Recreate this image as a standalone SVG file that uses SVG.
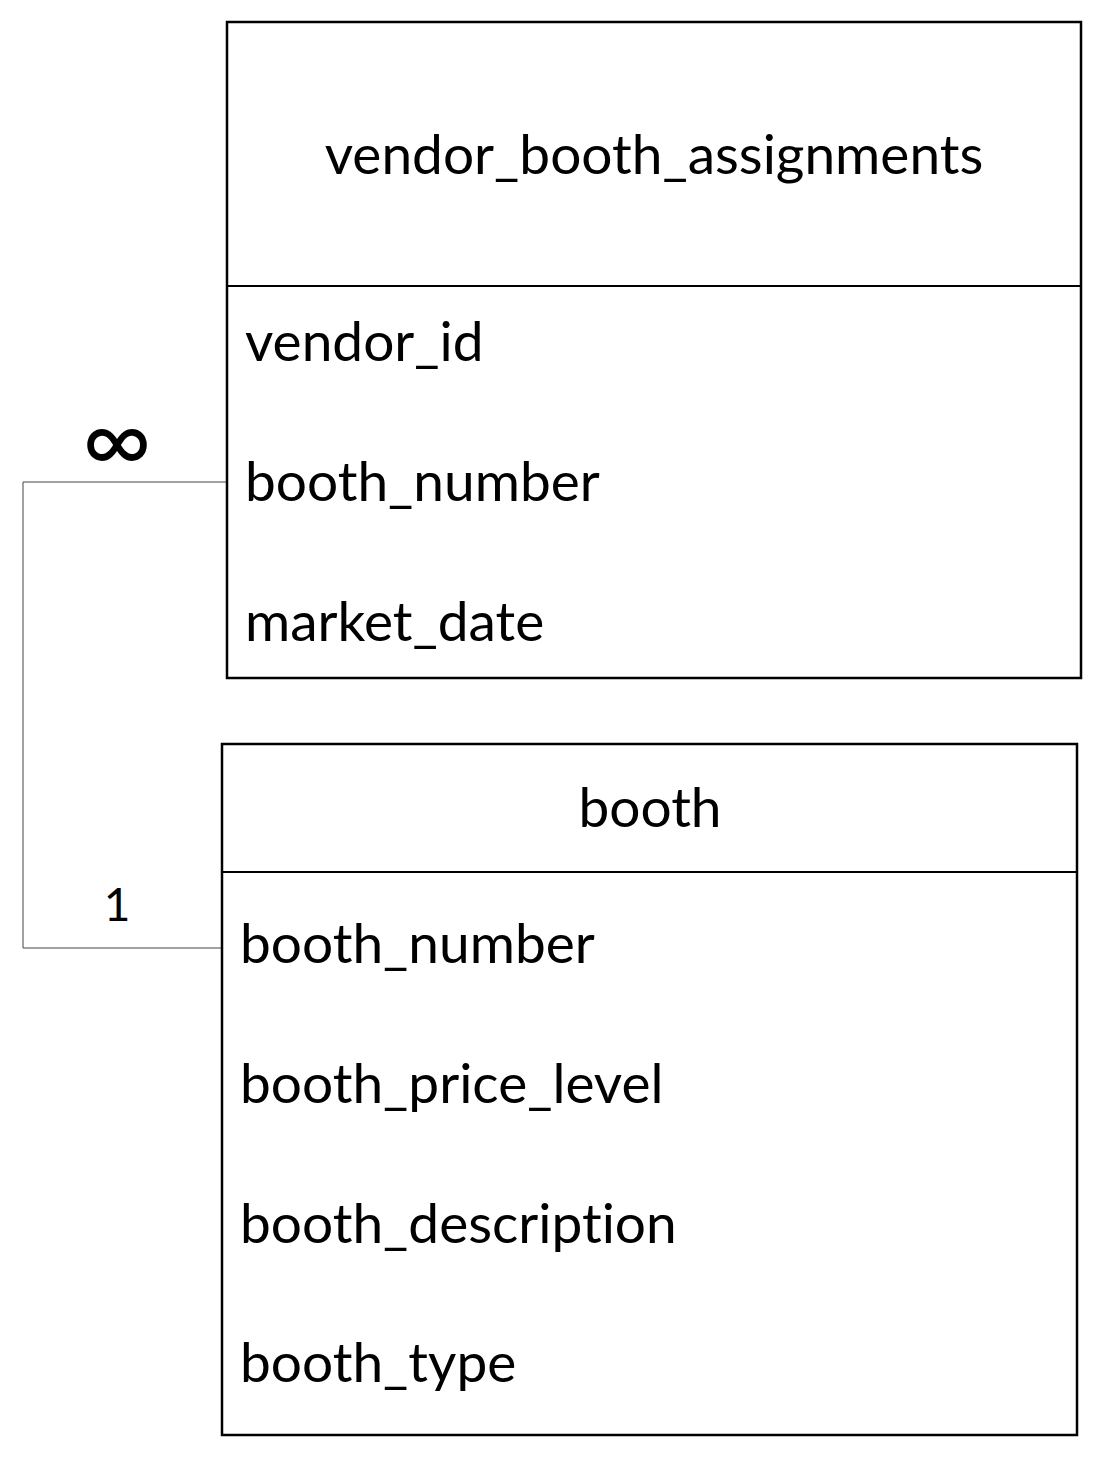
<svg xmlns="http://www.w3.org/2000/svg" width="1103" height="1458" viewBox="0 0 1103 1458">
<style>
text{font-family:Lato,"Open Sans","Liberation Sans",sans-serif;fill:#000;font-variant-ligatures:none}
.t{font-size:55px}
.c{text-anchor:middle}
.box{fill:#fff;stroke:#000;stroke-width:2.5}
.div{stroke:#000;stroke-width:2}
.conn{fill:none;stroke:#444;stroke-width:1}
</style>
<rect width="1103" height="1458" fill="#fff"/>
<g id="connectors">
<polyline class="conn" points="226,482 23,482 23,948 222,948"/>
<text x="117" y="473" class="c" style="font-size:95px">∞</text>
<text x="117" y="921" class="c" style="font-size:46px">1</text>
</g>
<g id="vendor_booth_assignments">
<rect class="box" x="227" y="22" width="854" height="656"/>
<line class="div" x1="227" y1="286" x2="1081" y2="286"/>
<text x="654" y="174" class="t c">vendor_booth_assignments</text>
<text x="245" y="361" class="t">vendor_id</text>
<text x="245" y="501" class="t">booth_number</text>
<text x="245" y="641" class="t">market_date</text>
</g>
<g id="booth">
<rect class="box" x="222" y="744" width="855" height="691"/>
<line class="div" x1="222" y1="872" x2="1077" y2="872"/>
<text x="650" y="827" class="t c">booth</text>
<text x="240" y="963" class="t">booth_number</text>
<text x="240" y="1103" class="t">booth_price_level</text>
<text x="240" y="1243" class="t">booth_description</text>
<text x="240" y="1382" class="t">booth_type</text>
</g>
</svg>
